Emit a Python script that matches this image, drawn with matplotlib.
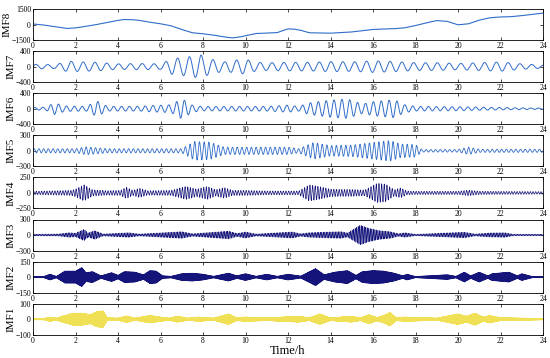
import numpy as np
import matplotlib
matplotlib.use('Agg')
import matplotlib.pyplot as plt

plt.rcParams['font.family'] = ['Liberation Serif', 'DejaVu Serif']

# IMF8 is slow enough to read point by point (hour, value)
imf8_t = [0, 0.5, 1, 1.6, 2, 2.5, 3, 3.5, 4, 4.3, 4.7, 5, 5.5, 6, 6.5, 7, 7.5, 8, 8.5, 9, 9.4, 9.8,
          10.2, 10.5, 11, 11.5, 11.8, 12, 12.3, 12.6, 13, 14, 15, 16, 17, 17.5, 18, 18.5, 19, 19.5,
          20, 20.5, 21, 21.5, 22, 22.5, 23, 23.5, 24]
imf8_v = [50, -50, -200, -380, -330, -170, 0, 200, 400, 480, 460, 400, 220, 70, -130, -480, -800,
          -900, -1030, -1200, -1300, -1180, -1000, -870, -830, -780, -560, -430, -450, -560, -800,
          -840, -720, -480, -400, -320, -100, 150, 380, 300, -30, 70, 420, 650, 730, 760, 860, 980, 1100]

# the other IMFs: envelope (hour, amplitude) + cycles per hour
imf7_t = [0, 1, 1.7, 2, 3, 4, 5, 6, 6.6, 7, 7.9, 8.3, 9, 9.5, 10, 10.5, 11, 12, 13, 14, 15, 16, 17, 18, 19, 20, 21, 22, 23, 24]
imf7_a = [60, 50, 140, 125, 110, 70, 80, 70, 215, 225, 300, 200, 120, 165, 190, 110, 100, 110, 110, 130, 120, 150, 130, 100, 100, 80, 100, 120, 70, 40]
imf7_f = 1.8

imf6_t = [0, 0.6, 1.0, 1.5, 2.5, 3.0, 3.5, 5, 5.5, 6.5, 7.0, 7.5, 8, 11, 12, 12.5, 13, 14, 14.8, 15.5, 16, 17, 17.5, 18, 20, 22, 24]
imf6_a = [30, 40, 150, 70, 60, 200, 60, 60, 80, 100, 260, 90, 55, 60, 90, 60, 150, 220, 250, 120, 180, 230, 100, 60, 50, 30, 15]
imf6_f = 2.7

imf5_t = [0, 2, 2.5, 3.5, 7, 7.6, 8.3, 9, 12, 12.5, 13.2, 14, 15, 16, 16.8, 17.3, 18, 18.3, 20, 20.5, 21, 24]
imf5_a = [40, 40, 75, 40, 40, 180, 170, 70, 70, 40, 160, 100, 110, 160, 200, 130, 120, 25, 25, 70, 30, 30]
imf5_f = 4.5

imf4_t = [0, 1.8, 2.0, 2.4, 2.8, 3.5, 4.1, 4.4, 4.7, 5.0, 5.4, 6.5, 7.2, 7.7, 8.2, 8.6, 9.0, 9.4, 10, 11, 12.5,
          13.0, 13.5, 14, 14.5, 15, 15.6, 16.2, 16.6, 17, 17.3, 17.6, 18, 20, 20.5, 21, 24]
imf4_a = [25, 40, 60, 130, 50, 35, 40, 90, 40, 75, 35, 40, 105, 60, 105, 50, 85, 40, 40, 30, 30,
          130, 100, 60, 55, 55, 45, 155, 140, 50, 80, 30, 25, 25, 45, 25, 20]
imf4_f = 8

imf3_t = [0, 1.2, 1.7, 2.0, 2.4, 2.6, 2.9, 3.3, 4.5, 5, 7.0, 7.5, 9.2, 9.6, 10.0, 10.5, 12.2, 12.6, 13.0, 14.0,
          14.5, 14.8, 15.4, 15.8, 16.3, 16.8, 17.2, 17.5, 18, 20.3, 20.8, 21.5, 22.2, 22.6, 24]
imf3_a = [15, 20, 45, 35, 110, 40, 85, 20, 45, 20, 65, 25, 75, 30, 60, 20, 60, 25, 45, 60,
          65, 40, 190, 130, 85, 65, 25, 45, 15, 55, 20, 40, 45, 15, 15]
imf3_f = 14

imf2_t = [0, 0.5, 0.8, 1.1, 1.5, 2.0, 2.3, 2.5, 2.8, 3.2, 3.7, 4.0, 4.3, 4.8, 5.2, 5.5, 5.8, 6.1, 6.5, 7.0, 7.5,
          8.0, 8.5, 9.2, 9.6, 10.0, 10.5, 11.0, 11.5, 12.0, 12.6, 13.3, 13.7, 14.2, 14.8, 15.2, 15.5, 16.0, 16.5,
          17.0, 17.4, 17.6, 18.0, 19.5, 19.9, 20.3, 20.6, 21.0, 21.4, 21.6, 22.4, 22.8, 23.0, 23.5, 24]
imf2_a = [8, 8, 30, 10, 60, 60, 95, 45, 55, 15, 45, 20, 55, 50, 25, 65, 60, 15, 10, 35, 40,
          30, 10, 40, 15, 35, 10, 30, 10, 30, 12, 85, 25, 50, 65, 20, 55, 65, 60,
          40, 15, 30, 8, 25, 10, 50, 15, 50, 15, 35, 50, 15, 35, 8, 8]
imf2_f = 40

imf1_t = [0, 0.5, 0.8, 1.1, 1.5, 1.9, 2.3, 2.7, 3.0, 3.3, 3.5, 4.0, 4.4, 4.8, 5.5, 6.0, 6.4, 6.8, 7.3, 7.8,
          8.5, 9.2, 9.6, 10.0, 11, 12.5, 13.0, 13.5, 14.0, 15.0, 15.4, 15.8, 16.2, 16.5, 16.8, 17.1, 17.5, 19,
          20.0, 20.4, 20.8, 21.2, 21.5, 22, 23, 24]
imf1_a = [5, 5, 15, 8, 25, 40, 40, 30, 50, 55, 10, 8, 22, 8, 25, 15, 8, 20, 8, 15,
          8, 35, 10, 15, 10, 20, 10, 35, 10, 20, 10, 30, 12, 25, 45, 10, 15, 8,
          35, 20, 40, 15, 25, 10, 8, 5]
imf1_f = 90

blue = '#2f6cc8'
navy = '#14147a'
yellow = '#efe055'

rows = [
    ('IMF7', imf7_t, imf7_a, imf7_f, 400, blue, 0.7),
    ('IMF6', imf6_t, imf6_a, imf6_f, 400, blue, 0.7),
    ('IMF5', imf5_t, imf5_a, imf5_f, 300, blue, 0.6),
    ('IMF4', imf4_t, imf4_a, imf4_f, 250, navy, 0.5),
    ('IMF3', imf3_t, imf3_a, imf3_f, 300, navy, 0.45),
    ('IMF2', imf2_t, imf2_a, imf2_f, 150, navy, 0.3),
    ('IMF1', imf1_t, imf1_a, imf1_f, 100, yellow, 0.3),
]

t = np.linspace(0, 24, 30000)

fig = plt.figure(figsize=(5.5, 3.58), dpi=100)
left, right = 33 / 550, 543 / 550
top_px, h_px, pitch = 9, 31, 42.1
axes = []
for i in range(8):
    y0 = 1 - (top_px + i * pitch + h_px) / 358
    axes.append(fig.add_axes([left, y0, right - left, h_px / 358]))

def style(ax, lim, name):
    ax.set_xlim(0, 24)
    ax.set_ylim(-lim, lim)
    ax.set_xticks(range(0, 25, 2))
    ax.set_yticks([-lim, 0, lim])
    ax.tick_params(direction='in', length=2, width=0.5, labelsize=5.5, pad=1.5,
                   top=True, right=True)
    for s in ax.spines.values():
        s.set_linewidth(0.6)
    ax.set_ylabel(name, fontsize=8, labelpad=0)

ax = axes[0]
ax.plot(imf8_t, imf8_v, color=blue, lw=0.8)
style(ax, 1500, 'IMF8')

for ax, (name, kt, ka, f, lim, col, lw) in zip(axes[1:], rows):
    env = np.interp(t, kt, ka)
    sig = env * np.sin(2 * np.pi * f * t)
    ax.plot(t, sig, color=col, lw=lw)
    style(ax, lim, name)

axes[-1].set_xlabel('Time/h', fontsize=9, labelpad=0, x=0.5)
fig.savefig('out.png', dpi=100)
